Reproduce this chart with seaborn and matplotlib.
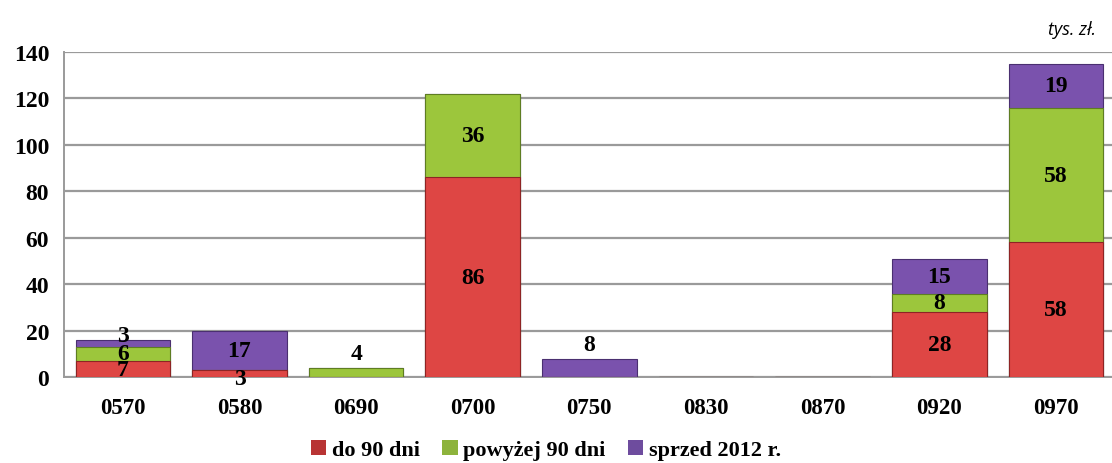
import numpy as np
import pandas as pd
import seaborn as sns
import matplotlib.pyplot as plt
from matplotlib.patches import Patch

categories = ['0570', '0580', '0690', '0700', '0750', '0830', '0870', '0920', '0970']
do_90 = [7, 3, 0, 86, 0, 0, 0, 28, 58]
powyzej_90 = [6, 0, 4, 36, 0, 0, 0, 8, 58]
sprzed_2012 = [3, 17, 0, 0, 8, 0, 0, 15, 19]
series_names = ['do 90 dni', 'powyżej 90 dni', 'sprzed 2012 r.']

df = pd.DataFrame({'kod': categories, 'red': do_90, 'green': powyzej_90, 'purple': sprzed_2012})
df['s1'] = df['red']
df['s2'] = df['red'] + df['green']
df['s3'] = df['s2'] + df['purple']

sns.set_style('white')
plt.rcParams['font.family'] = ['Liberation Serif', 'DejaVu Serif']
plt.rcParams['text.color'] = 'black'
plt.rcParams['xtick.color'] = 'black'
plt.rcParams['ytick.color'] = 'black'

c_red, c_green, c_purple = '#de4644', '#9cc63c', '#7a52ad'

fig = plt.figure(figsize=(11.12, 4.64), dpi=100)
ax = fig.add_axes([0.058, 0.185, 0.944, 0.701])

# stacked bars drawn as overlapping cumulative totals
sns.barplot(data=df, x='kod', y='s3', color=c_purple, width=0.81, ax=ax, saturation=1,
            edgecolor='#4a2f70', linewidth=0.8, zorder=3)
sns.barplot(data=df, x='kod', y='s2', color=c_green, width=0.81, ax=ax, saturation=1,
            edgecolor='#5e7d22', linewidth=0.8, zorder=3)
sns.barplot(data=df, x='kod', y='s1', color=c_red, width=0.81, ax=ax, saturation=1,
            edgecolor='#8e2424', linewidth=0.8, zorder=3)

# segment labels (small segments pushed out so labels don't collide)
for i in range(len(categories)):
    segs = [(0, do_90[i]), (do_90[i], powyzej_90[i]), (do_90[i] + powyzej_90[i], sprzed_2012[i])]
    nonzero = [s for s in segs if s[1] > 0]
    for k, (base, val) in enumerate(nonzero):
        if len(nonzero) == 1 and val < 10:
            y = base + val + 6
        elif val < 5 and k == len(nonzero) - 1:
            y = base + val + 2
        elif val < 5 and k == 0:
            y = base - 0.5
        else:
            y = base + val / 2
        ax.text(i, y, str(val), ha='center', va='center', fontsize=17,
                fontweight='bold', color='black', zorder=5)

ax.set_ylim(0, 140)
ax.set_xlim(-0.5, 8.47)
ax.set_yticks(range(0, 141, 20))
ax.yaxis.grid(True, color='#9a9a9a', linewidth=1.6, zorder=0)
ax.set_axisbelow(True)
ax.set_xlabel('')
ax.set_ylabel('')
for s in ['top', 'right']:
    ax.spines[s].set_visible(False)
for s in ['left', 'bottom']:
    ax.spines[s].set_color('#9a9a9a')
    ax.spines[s].set_linewidth(1.4)

ax.tick_params(axis='y', labelsize=17, length=6, color='#9a9a9a', labelcolor='black',
               direction='out', pad=5)
ax.tick_params(axis='x', which='major', labelsize=16.5, length=0, labelcolor='black', pad=14)
ax.set_xticks(np.arange(-0.5, 9, 1), minor=True)
ax.tick_params(axis='x', which='minor', length=7, color='#9a9a9a', direction='out')
for lab in ax.get_yticklabels() + ax.get_xticklabels():
    lab.set_fontweight('bold')

handles = [Patch(facecolor='#b83434', edgecolor='none'),
           Patch(facecolor='#8db33c', edgecolor='none'),
           Patch(facecolor='#6e4c9e', edgecolor='none')]
fig.legend(handles, series_names, loc='center', bbox_to_anchor=(0.491, 0.028),
           ncol=3, frameon=False, prop={'weight': 'bold', 'size': 16},
           handlelength=0.7, handleheight=0.7, handletextpad=0.25, columnspacing=1.0)

fig.text(0.986, 0.935, 'tys. zł.', ha='right', va='center', fontsize=13,
         style='italic', family='Open Sans')

plt.savefig('out.png', dpi=100)
